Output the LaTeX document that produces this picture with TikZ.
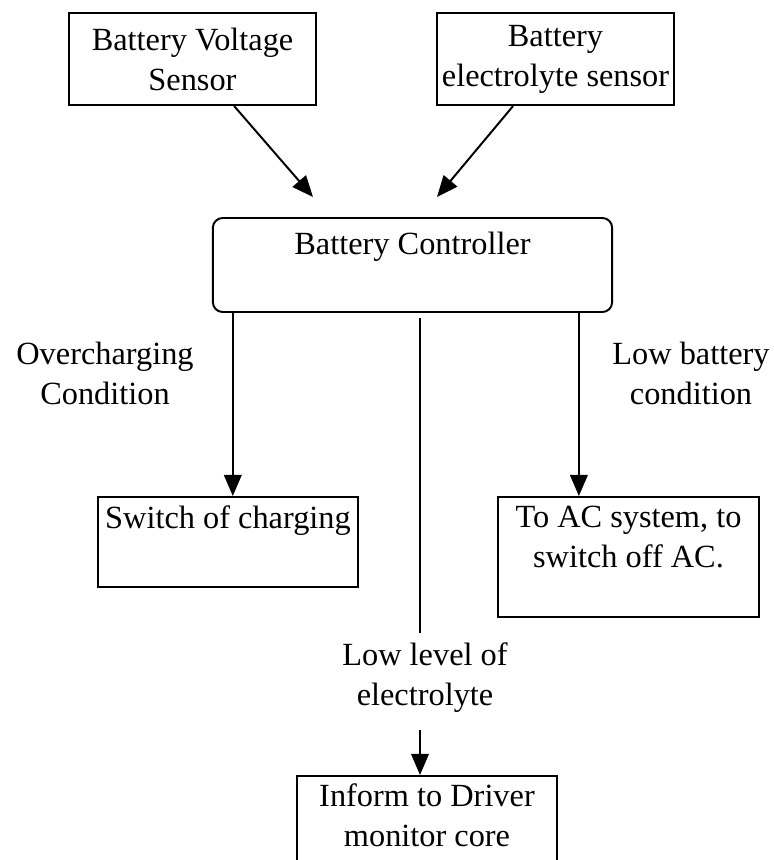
\documentclass[tikz,border=0pt]{standalone}
\usepackage{fontspec}
\setmainfont{Liberation Serif}
\usepackage{tikz}
\usetikzlibrary{arrows.meta, positioning, calc}

\begin{document}
\begin{tikzpicture}[x=0.025cm, y=-0.025cm,
  frame/.style={draw, line width=1.4pt, inner sep=2pt},
  txt/.style={font=\fontsize{23}{28.5}\selectfont, align=center, inner sep=3pt},
  flow/.style={line width=1.4pt, -{Triangle[length=15pt,width=12.5pt]}}]
\useasboundingbox (0,0) rectangle (774,860);

% sensors
\node[frame, txt, minimum width=6.18cm, minimum height=2.3cm] (vsen) at (192.5,59) {Battery Voltage\\Sensor};
\node[frame, txt, minimum width=5.93cm, minimum height=2.3cm] (esen) at (555.5,59) {Battery\\electrolyte sensor};

% controller
\node[frame, rounded corners=7pt, minimum width=9.98cm, minimum height=2.35cm] (ctrl) at (412.5,265) {};
\node[txt, below=7.5pt of ctrl.north] (ctrl-t) {Battery Controller};

% outputs
\node[frame, minimum width=6.5cm, minimum height=2.25cm] (sw) at (228,542) {};
\node[txt, below=4pt of sw.north] (sw-t) {Switch of charging};
\node[frame, minimum width=6.53cm, minimum height=3cm] (ac) at (628.5,557) {};
\node[txt, below=4pt of ac.north] (ac-t) {To AC system, to\\switch off AC.};
\node[frame, minimum width=6.5cm, minimum height=2.6cm] (drv) at (427,828) {};
\node[txt, below=3pt of drv.north] (drv-t) {Inform to Driver\\monitor core};

% conditions
\node[txt] (over) at (105,373) {Overcharging\\Condition};
\node[txt] (lowbat) at (691,373) {Low battery\\condition};
\node[txt] (lowlvl) at (425,678) {Low level of\\electrolyte};

% connectors
\coordinate (tipL) at (313,197);
\coordinate (tipR) at (437,197);
\draw[flow] ([xshift=1.04cm]vsen.south) -- (tipL);
\draw[flow] ([xshift=-1.06cm]esen.south) -- (tipR);
\coordinate (swin) at ([xshift=0.12cm]sw.north);
\draw[flow] (swin |- ctrl.south) -- (swin);
\coordinate (acin) at ([xshift=-1.24cm]ac.north);
\draw[flow] (acin |- ctrl.south) -- (acin);
\coordinate (midtop) at (420,318);
\coordinate (midbot) at (420,633);
\draw[line width=1.4pt] (midtop) -- (midbot);
\coordinate (drvin) at (420,730);
\draw[flow] (drvin) -- (drvin |- drv.north);
\end{tikzpicture}
\end{document}
